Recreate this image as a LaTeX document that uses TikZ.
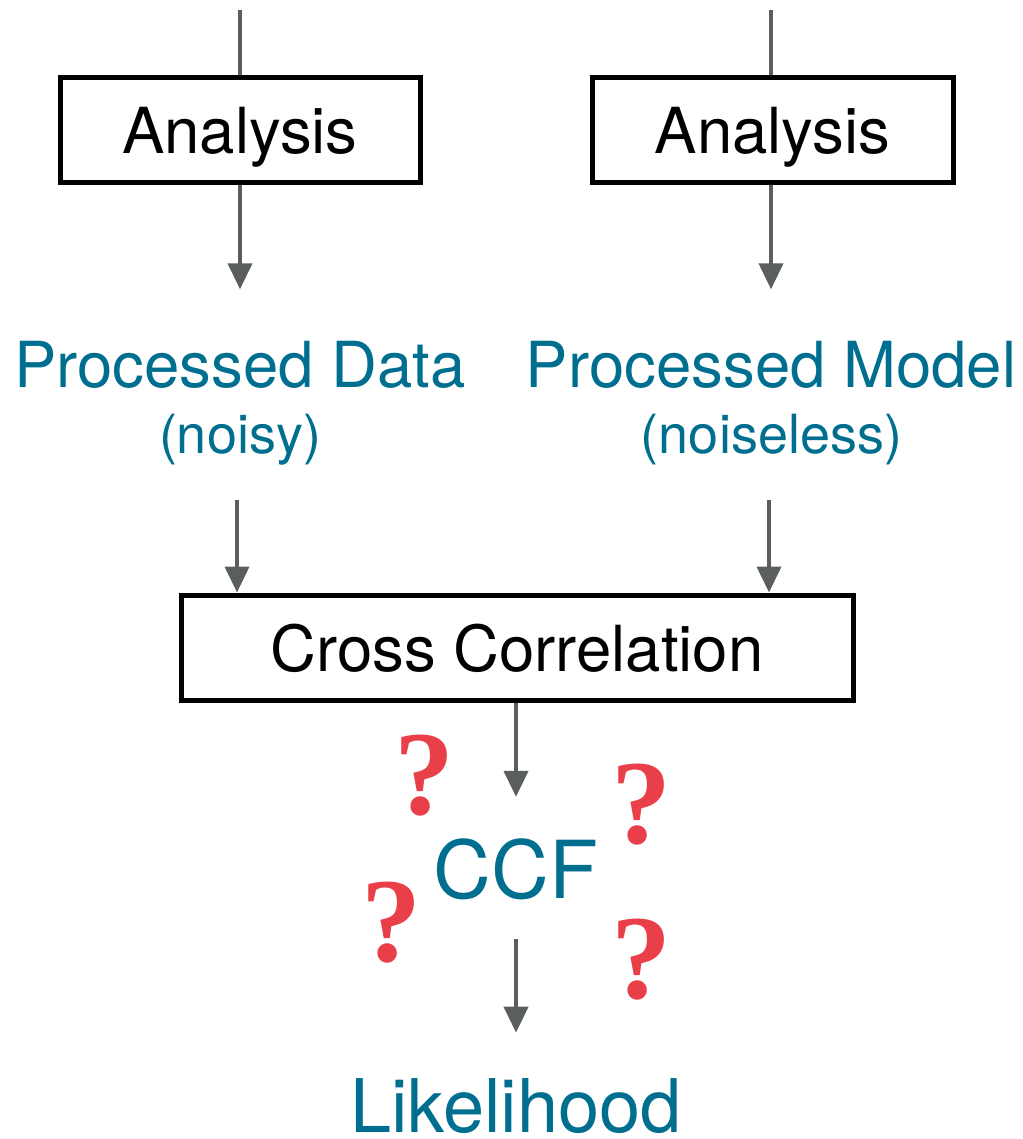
\documentclass[tikz,border=0pt]{standalone}
\usepackage{fontspec}
\setmainfont{TeX Gyre Heros}
\newfontfamily\qfont{Liberation Serif}
\usepackage{tikz}
\usetikzlibrary{positioning,arrows.meta}
\definecolor{teal}{RGB}{0,110,143}
\definecolor{arrgray}{RGB}{90,94,94}
\definecolor{qred}{RGB}{232,63,72}

\begin{document}
\begin{tikzpicture}[x=0.5pt,y=-0.5pt,
    stepbox/.style = {draw=black, line width=2.5pt, inner sep=0pt, text depth=0pt,
        font=\fontsize{31.75}{38}\selectfont},
    label/.style = {text=teal, inner sep=0pt, anchor=base, font=\fontsize{31.75}{38}\selectfont},
    note/.style = {text=teal, inner sep=0pt, anchor=base, font=\fontsize{27}{32}\selectfont},
    big/.style = {text=teal, inner sep=0pt, anchor=base},
    qmark/.style = {text=qred, inner sep=0pt, font=\qfont\bfseries\fontsize{60}{68}\selectfont},
    arr/.style = {draw=arrgray, line width=2pt, -{Triangle[width=12pt,length=13pt]}},
    feed/.style = {draw=arrgray, line width=2pt}]
    \useasboundingbox (0,0) rectangle (1022,1139);

    % analysis boxes
    \coordinate (topL) at (240,10);
    \coordinate (topR) at (771,10);
    \node[stepbox, minimum width=180pt, minimum height=52.5pt] (anaL) at (240,130.5) {Analysis};
    \node[stepbox, minimum width=180.5pt, minimum height=52.5pt] (anaR) at (772.5,130.5) {Analysis};

    % processed outputs
    \node[label] (dataL) at (240,387) {Processed Data};
    \node[note] (noteL) at (240,453) {(noisy)};
    \node[label] (dataR) at (771,387) {Processed Model};
    \node[note] (noteR) at (771.5,453) {(noiseless)};

    % cross correlation and result
    \node[stepbox, minimum width=336pt, minimum height=52.5pt] (cross) at (517,647.5) {Cross Correlation};
    \node[big, font=\fontsize{40}{48}\selectfont] (ccf) at (516,898) {CCF};
    \node[big, font=\fontsize{37}{44}\selectfont] (like) at (516,1132) {Likelihood};

    % question marks
    \node[qmark] (q1) at (424,776) {?};
    \node[qmark] (q2) at (641,805) {?};
    \node[qmark] (q3) at (391,923) {?};
    \node[qmark] (q4) at (641,960) {?};

    % connectors
    \draw[feed] (topL) -- (anaL.north -| topL);
    \draw[feed] (topR) -- (anaR.north -| topR);
    \draw[arr, shorten >=25.5pt] (anaL.south -| topL) -- (dataL.north -| topL);
    \draw[arr, shorten >=25.5pt] (anaR.south -| topR) -- (dataR.north -| topR);
    \draw[arr, shorten <=17.5pt] (noteL.south -| 237,0) -- (cross.north -| 237,0);
    \draw[arr, shorten <=17.5pt] (noteR.south -| 769,0) -- (cross.north -| 769,0);
    \draw[arr, shorten >=20.5pt] (cross.south -| ccf) -- (ccf.north);
    \draw[arr, shorten <=19.5pt, shorten >=22.5pt] (ccf.south) -- (like.north);
\end{tikzpicture}
\end{document}
